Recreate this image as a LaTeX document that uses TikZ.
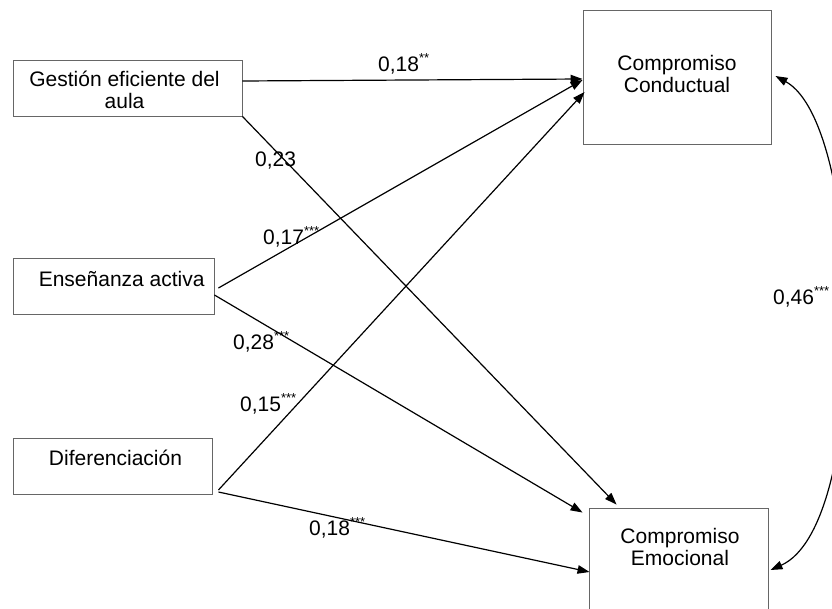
\documentclass[tikz,border=0pt]{standalone}
\usepackage{fontspec}
\setmainfont{Liberation Sans}
\usetikzlibrary{arrows.meta,calc}
\newcommand\sig[1]{\raisebox{9pt}{\fontsize{13}{13}\selectfont #1}}
\begin{document}
\begin{tikzpicture}[x=1pt,y=-1pt,
  box/.style={draw=black!60,line width=0.9pt,rectangle,inner sep=0pt,fill=white},
  txt/.style={font=\fontsize{21}{22}\selectfont,inner sep=0pt,align=center},
  lab/.style={font=\fontsize{21}{22}\selectfont,inner sep=0pt,anchor=base west},
  conn/.style={line width=1.2pt,-{Triangle[length=12pt,width=8.5pt]}},
  dconn/.style={line width=1.2pt,{Triangle[length=12pt,width=8.5pt]}-{Triangle[length=12pt,width=8.5pt]}}]
\useasboundingbox (0,0) rectangle (832,609);
\fill[white] (0,0) rectangle (832,609);
\clip (0,0) rectangle (832,609);
% boxes
\node[box,minimum width=229pt,minimum height=56pt] (g) at (127.5,88) {};
\node[box,minimum width=201pt,minimum height=56pt] (e) at (113.5,286) {};
\node[box,minimum width=199pt,minimum height=56pt] (d) at (112.5,466) {};
\node[box,minimum width=188pt,minimum height=134pt] (cc) at (677,77) {};
\node[box,minimum width=179pt,minimum height=150pt] (em) at (678.5,583) {};
% box texts (base = baseline of the last line)
\node[txt,anchor=base] (gt) at (124.5,109) {Gestión eficiente del\\aula};
\node[txt,anchor=base] (et) at (121.7,287) {Enseñanza activa};
\node[txt,anchor=base] (dt) at (115.5,465) {Diferenciación};
\node[txt,anchor=base] (cct) at (677,93) {Compromiso\\Conductual};
\node[txt,anchor=base] (emt) at (680,565) {Compromiso\\Emocional};
% connectors
\draw[conn] ([yshift=7pt]g.east) -- ([yshift=-2pt]cc.west);
\draw[conn] (g.south east) -- ([xshift=28pt,yshift=3pt]em.north west);
\draw[conn] ([xshift=4pt,yshift=-2pt]e.east) -- ([yshift=-3pt]cc.west);
\draw[conn] ([yshift=-9pt]e.east) -- ([xshift=-6pt,yshift=-5pt]em.north west);
\draw[conn] ([xshift=6pt,yshift=-24pt]d.east) -- ([xshift=2pt,yshift=-15pt]cc.west);
\draw[conn] ([xshift=6pt,yshift=-26pt]d.east) -- ([xshift=1pt,yshift=11pt]em.west);
\draw[dconn] ([xshift=4pt,yshift=1pt]cc.east) .. controls (865,125) and (872,525) .. ([xshift=2pt,yshift=13pt]em.east);
% labels
\node[lab] (l1) at (378,72) {0,18\sig{**}};
\node[lab] (l2) at (255,167) {0,23};
\node[lab] (l3) at (263,245) {0,17\sig{***}};
\node[lab] (l4) at (233,349) {0,28\sig{***}};
\node[lab] (l5) at (240,411) {0,15\sig{***}};
\node[lab] (l6) at (309,535) {0,18\sig{***}};
\node[lab] (l7) at (773,305) {0,46\sig{***}};
\end{tikzpicture}
\end{document}
